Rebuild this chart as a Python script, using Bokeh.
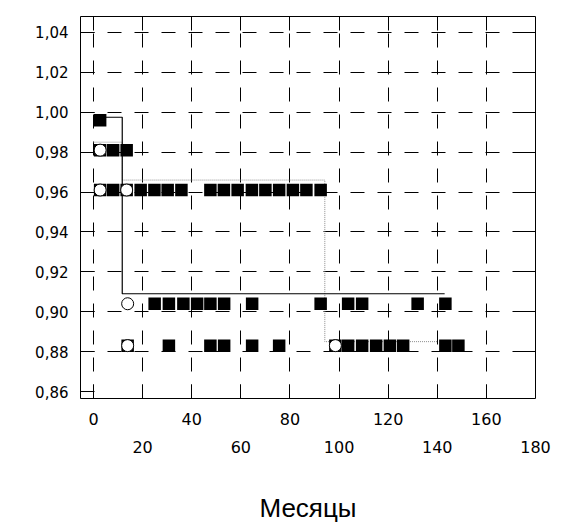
from bokeh.plotting import figure
from bokeh.models import Range1d, FixedTicker, LinearAxis, CustomJSTickFormatter
from bokeh.embed import file_html
from bokeh.resources import INLINE

# ---- data ----
y_ticks = [0.86, 0.88, 0.90, 0.92, 0.94, 0.96, 0.98, 1.00, 1.02, 1.04]
x_ticks_row1 = [0, 40, 80, 120, 160]
x_ticks_row2 = [20, 60, 100, 140, 180]
x_grid_ticks = [0, 20, 40, 60, 80, 100, 120, 140, 160]
y_grid_ticks = [0.88, 0.90, 0.92, 0.94, 0.96, 0.98, 1.00, 1.02, 1.04]

row_levels = [0.996, 0.981, 0.961, 0.904, 0.883]
sq_x_100 = [2.7]
sq_x_098 = [2.7, 8.0, 13.5]
sq_x_096 = [2.7, 8.0, 13.5, 19.2, 24.8, 30.2, 35.8, 47.6, 53.1, 58.7, 64.5,
            70.0, 75.6, 81.2, 86.7, 92.5]
sq_x_090 = [24.9, 30.7, 36.6, 42.2, 47.6, 53.2, 64.6, 92.5, 103.7, 109.4,
            132.0, 143.3]
sq_x_088 = [13.9, 30.7, 47.6, 53.2, 64.6, 75.6, 98.5, 103.7, 109.4, 115.1,
            120.7, 126.1, 143.3, 148.6]

circle_x = [2.7, 2.7, 13.5, 13.9, 13.9, 98.5]
circle_y = [0.981, 0.961, 0.961, 0.904, 0.883, 0.883]

solid_t = [0, 11.7, 143.0]
solid_s = [0.9975, 0.909, 0.909]
dotted_t = [0, 11.7, 94.2, 140.2]
dotted_s = [0.985, 0.966, 0.885, 0.885]

x_label = "Месяцы"

# ---- build ----
sq_rows = [sq_x_100, sq_x_098, sq_x_096, sq_x_090, sq_x_088]
sq_x, sq_y = [], []
for xs, lev in zip(sq_rows, row_levels):
    sq_x += xs
    sq_y += [lev] * len(xs)

p = figure(width=564, height=525,
           x_range=Range1d(-5.3, 180), y_range=Range1d(0.8565, 1.048),
           output_backend="svg", toolbar_location=None,
           min_border_left=80, min_border_right=29,
           min_border_top=16, min_border_bottom=127)
p.outline_line_color = "black"
p.outline_line_width = 1
p.background_fill_color = "white"
p.border_fill_color = "white"

for g, t in ((p.xgrid[0], x_grid_ticks), (p.ygrid[0], y_grid_ticks)):
    g.ticker = FixedTicker(ticks=t, minor_ticks=[])
    g.grid_line_color = "black"
    g.grid_line_width = 1
    g.grid_line_dash = "14 13"


def style(ax):
    ax.axis_line_color = None
    ax.major_tick_in = 14
    ax.major_tick_out = 0
    ax.minor_tick_in = 14
    ax.minor_tick_out = 0
    ax.major_tick_line_color = "black"
    ax.minor_tick_line_color = "black"
    ax.major_label_text_color = "black"
    ax.major_label_text_font = "DejaVu Sans"


ya = p.yaxis[0]
style(ya)
ya.ticker = FixedTicker(ticks=y_ticks, minor_ticks=[])
ya.formatter = CustomJSTickFormatter(code="return tick.toFixed(2).replace('.', ',');")
ya.major_label_text_font_size = "15px"
ya.major_label_standoff = 12

xa = p.xaxis[0]
style(xa)
xa.ticker = FixedTicker(ticks=x_ticks_row1, minor_ticks=x_ticks_row2[:-1])
xa.major_label_text_font_size = "16px"
xa.major_label_standoff = 14

xc = LinearAxis(ticker=FixedTicker(ticks=x_ticks_row2, minor_ticks=[]))
style(xc)
xc.major_tick_in = 0
xc.minor_tick_in = 0
xc.major_label_text_font_size = "16px"
xc.major_label_standoff = 13
xc.axis_label = x_label
xc.axis_label_text_font = "Liberation Sans"
xc.axis_label_text_font_size = "26px"
xc.axis_label_text_font_style = "normal"
xc.axis_label_text_color = "black"
xc.axis_label_standoff = 37
p.add_layout(xc, "below")

top = LinearAxis(ticker=FixedTicker(ticks=x_grid_ticks, minor_ticks=[]),
                 formatter=CustomJSTickFormatter(code="return '';"))
style(top)
top.major_label_standoff = 0
top.major_label_text_font_size = "1px"
p.add_layout(top, "above")

right = LinearAxis(ticker=FixedTicker(ticks=y_grid_ticks, minor_ticks=[]),
                   formatter=CustomJSTickFormatter(code="return '';"))
style(right)
right.major_label_standoff = 0
right.major_label_text_font_size = "1px"
p.add_layout(right, "right")

p.step(dotted_t, dotted_s, mode="after", line_color="#8c8c8c",
       line_width=1, line_dash="1 1")
p.step(solid_t, solid_s, mode="after", line_color="black", line_width=1.2)

p.scatter(sq_x, sq_y, marker="square", size=12.5, fill_color="black",
          line_color=None)
p.scatter(circle_x, circle_y, marker="circle", size=12, fill_color="white",
          line_color="black", line_width=1)

open("out.html", "w").write(file_html(p, INLINE))
